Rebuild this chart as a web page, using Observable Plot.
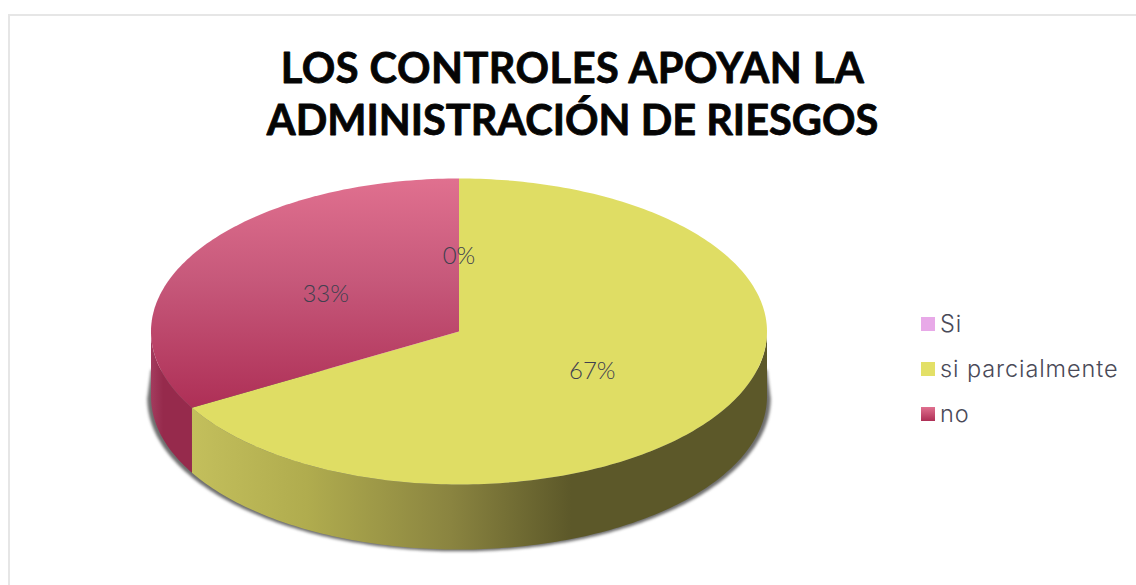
<!DOCTYPE html>
<html>
<head>
<meta charset="utf-8">
<script src="https://cdn.jsdelivr.net/npm/d3@7"></script>
<script src="https://cdn.jsdelivr.net/npm/@observablehq/plot@0.6"></script>
<style>
  html, body { margin: 0; background: #fff; }
  #page { position: relative; width: 1136px; height: 585px; overflow: hidden; }
  #frame { position: absolute; left: 8px; top: 14px; right: -2px; bottom: -2px;
           border: 2px solid #e6e6e6; }
  #chart { position: absolute; left: 0; top: 0; }
  #chart svg { display: block; background: transparent; }
  #legend { position: absolute; left: 921px; top: 301px; font-family: Inter, sans-serif;
            font-weight: 300; font-size: 23.5px; letter-spacing: 0.9px; color: #4a4a58; }
  .row { display: flex; align-items: center; height: 45px; white-space: nowrap; }
  .sw { width: 14px; height: 14px; margin-right: 5px; flex: none; }
</style>
</head>
<body>
<div id="page">
  <div id="frame"></div>
  <div id="chart"></div>
  <div id="legend"></div>
</div>
<script>
const titleLines = ["LOS CONTROLES APOYAN LA", "ADMINISTRACIÓN DE RIESGOS"];
const categories = ["Si", "si parcialmente", "no"];
const values = [0, 66.7, 33.3];
const topFills = ["#e8a9e8", "url(#topYellow)", "url(#topRed)"];
const sideFills = ["#b97fb9", "url(#sideYellow)", "url(#sideRed)"];
const swatches = ["#e8a9e8", "#e3e067", "linear-gradient(#e0708f,#ae2f56)"];
const titleOffsets = [69, 121];
const titleSpacing = [0.5, 0];

const depth = 0.425;            // thickness of the disc, in y-scale units
const total = d3.sum(values);
const toRad = (deg) => (deg * Math.PI) / 180;
const px = (deg) => Math.sin(toRad(deg));
const py = (deg) => -Math.cos(toRad(deg));

let start = 0;
const slices = categories.map((name, i) => {
  const a0 = start, a1 = start + (values[i] / total) * 360;
  start = a1;
  return {name, value: values[i], a0, a1, mid: (a0 + a1) / 2, i};
});

const arc = (a0, a1) => {
  const n = Math.max(1, Math.ceil(Math.abs(a1 - a0)));
  return d3.range(n + 1).map((k) => a0 + ((a1 - a0) * k) / n);
};

const topRows = slices.filter((s) => s.value > 0).flatMap((s) =>
  [{x: 0, y: 0, i: s.i}].concat(arc(s.a0, s.a1).map((a) => ({x: px(a), y: py(a), i: s.i})))
);

const sideRows = slices.flatMap((s) => {
  const lo = Math.max(s.a0, 90), hi = Math.min(s.a1, 270);
  if (!(hi > lo)) return [];
  const as = arc(lo, hi);
  return as.map((a) => ({x: px(a), y: py(a), i: s.i}))
    .concat(as.slice().reverse().map((a) => ({x: px(a), y: py(a) + depth, i: s.i})));
});

const shadowRows = arc(90, 270).map((a) => ({x: px(a) * 1.012, y: py(a) + depth + 0.012}));
shadowRows.push({x: -1, y: 0.25}, {x: 1, y: 0.25});

const labels = slices.map((s) => ({
  x: px(s.mid) * 0.5, y: py(s.mid) * 0.5,
  text: d3.format(".0%")(s.value / total)
}));

function gradient(id, horizontal, stops) {
  const g = document.createElementNS("http://www.w3.org/2000/svg", "linearGradient");
  g.setAttribute("id", id);
  g.setAttribute("x1", "0"); g.setAttribute("y1", "0");
  g.setAttribute("x2", horizontal ? "1" : "0"); g.setAttribute("y2", horizontal ? "0" : "1");
  for (const [o, c] of stops) {
    const s = document.createElementNS("http://www.w3.org/2000/svg", "stop");
    s.setAttribute("offset", o); s.setAttribute("stop-color", c);
    g.appendChild(s);
  }
  return g;
}
const defsMark = () => {
  const d = document.createElementNS("http://www.w3.org/2000/svg", "defs");
  d.appendChild(gradient("topYellow", false, [[0, "#dfdd64"], [1, "#dfdd64"]]));
  d.appendChild(gradient("topRed", false, [[0, "#e0708f"], [0.45, "#c6587a"], [1, "#ae2f56"]]));
  d.appendChild(gradient("sideYellow", true, [[0, "#c3bf5c"], [0.2, "#b0ac4e"], [0.45, "#8a8440"], [0.66, "#5c5829"], [1, "#5c5829"]]));
  d.appendChild(gradient("sideRed", true, [[0, "#a33c5e"], [0.3, "#962a4c"], [1, "#962a4c"]]));
  return d;
};

const plot = Plot.plot({
  width: 1136, height: 585,
  margin: 0,
  x: {domain: [-1, 1], range: [150.5, 766.5], axis: null},
  y: {domain: [-1, 1], range: [178, 484], axis: null},
  style: {background: "transparent"},
  marks: [
    defsMark,
    Plot.line(shadowRows, {x: "x", y: "y", curve: "linear-closed", fill: "#6e6e6e", stroke: "none", imageFilter: "blur(1.6px)"}),
    ...d3.groups(sideRows, (d) => d.i).map(([i, rows]) =>
      Plot.line(rows, {x: "x", y: "y", curve: "linear-closed", fill: sideFills[i], stroke: "none"})),
    ...d3.groups(topRows, (d) => d.i).map(([i, rows]) =>
      Plot.line(rows, {x: "x", y: "y", curve: "linear-closed", fill: topFills[i], stroke: "none"})),
    Plot.text(labels, {x: "x", y: "y", dy: 1, text: "text", fontFamily: "Lato, sans-serif", fontWeight: 300, fontSize: 24, fill: "#40404f"}),
    ...titleLines.map((t, i) => Plot.text([t], {
      text: (d) => d, frameAnchor: "top", lineAnchor: "middle", dx: 4, dy: titleOffsets[i],
      fontFamily: "Lato, sans-serif", fontWeight: 700, fontSize: 41.5, fill: "#050505",
      stroke: "#050505", strokeWidth: 0.8
    }))
  ]
});
document.getElementById("chart").appendChild(plot);

d3.select(plot).selectAll("text").each(function () {
  const i = titleLines.indexOf(this.textContent);
  if (i >= 0) this.style.letterSpacing = titleSpacing[i] + "px";
});

const legend = document.getElementById("legend");
categories.forEach((c, i) => {
  const r = document.createElement("div"); r.className = "row";
  const s = document.createElement("div"); s.className = "sw"; s.style.background = swatches[i];
  const t = document.createElement("span"); t.textContent = c;
  r.append(s, t); legend.append(r);
});
</script>
</body>
</html>
